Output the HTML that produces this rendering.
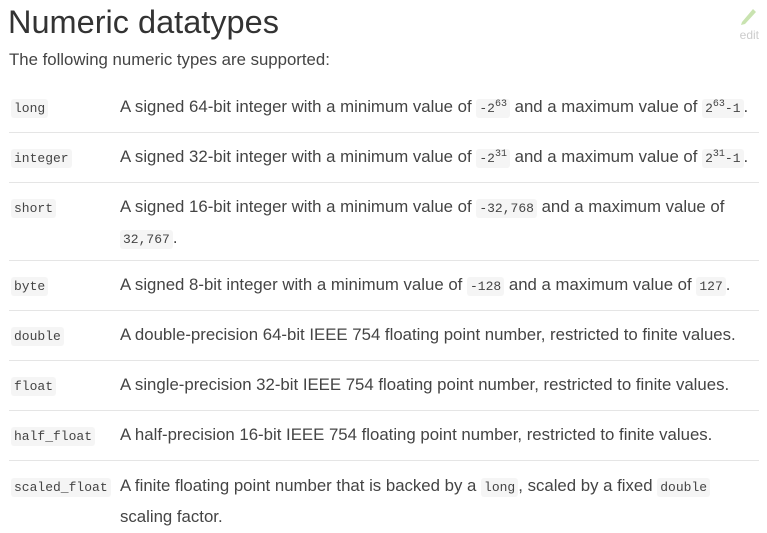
<!DOCTYPE html>
<html><head><meta charset="utf-8"><style>
body{margin:0;width:767px;height:533px;background:#fff;font-family:"Liberation Sans",sans-serif;color:#444;position:relative;overflow:hidden}
.a{position:absolute;white-space:nowrap}
h1{position:absolute;left:8px;top:4px;margin:0;font-size:32.5px;font-weight:normal;color:#333}
.sub{left:9px;top:50px;font-size:16.8px;color:#444}
code{font-family:"Liberation Mono",monospace;font-size:13px;background:#f5f5f5;border-radius:3px;padding:2px 3px;color:#444}
sup{font-size:10px;vertical-align:6px;line-height:0}
.hr{position:absolute;left:9px;width:750px;height:1px;background:#e5e5e5}
.t{position:absolute;left:11px}
.d{position:absolute;left:120px;font-size:16.8px;white-space:nowrap;line-height:29px}
.edit{right:8px;top:28px;font-size:12px;color:#ccc}
</style></head><body>
<h1>Numeric datatypes</h1>
<div class="a edit">edit</div>
<svg style="position:absolute;left:738px;top:4px" width="20" height="22"><path d="M4 18 L15 5 L18 8 L7 20 L3 21 Z" fill="#c9e3b0"/></svg>
<div class="a sub">The following numeric types are supported:</div>

<div class="t" style="top:99px"><code>long</code></div>
<div class="d" style="top:92px">A signed 64-bit integer with a minimum value of <code>-2<sup>63</sup></code> and a maximum value of <code>2<sup>63</sup>-1</code>.</div>
<div class="hr" style="top:132px"></div>

<div class="t" style="top:149px"><code>integer</code></div>
<div class="d" style="top:142px">A signed 32-bit integer with a minimum value of <code>-2<sup>31</sup></code> and a maximum value of <code>2<sup>31</sup>-1</code>.</div>
<div class="hr" style="top:182px"></div>

<div class="t" style="top:199px"><code>short</code></div>
<div class="d" style="top:192px">A signed 16-bit integer with a minimum value of <code>-32,768</code> and a maximum value of<br><code>32,767</code>.</div>
<div class="hr" style="top:260px"></div>

<div class="t" style="top:277px"><code>byte</code></div>
<div class="d" style="top:270px">A signed 8-bit integer with a minimum value of <code>-128</code> and a maximum value of <code>127</code>.</div>
<div class="hr" style="top:310px"></div>

<div class="t" style="top:327px"><code>double</code></div>
<div class="d" style="top:320px">A double-precision 64-bit IEEE 754 floating point number, restricted to finite values.</div>
<div class="hr" style="top:360px"></div>

<div class="t" style="top:377px"><code>float</code></div>
<div class="d" style="top:370px">A single-precision 32-bit IEEE 754 floating point number, restricted to finite values.</div>
<div class="hr" style="top:410px"></div>

<div class="t" style="top:427px"><code>half_float</code></div>
<div class="d" style="top:420px">A half-precision 16-bit IEEE 754 floating point number, restricted to finite values.</div>
<div class="hr" style="top:460px"></div>

<div class="t" style="top:478px"><code>scaled_float</code></div>
<div class="d" style="top:471px">A finite floating point number that is backed by a <code>long</code>, scaled by a fixed <code>double</code><br>scaling factor.</div>
</body></html>
